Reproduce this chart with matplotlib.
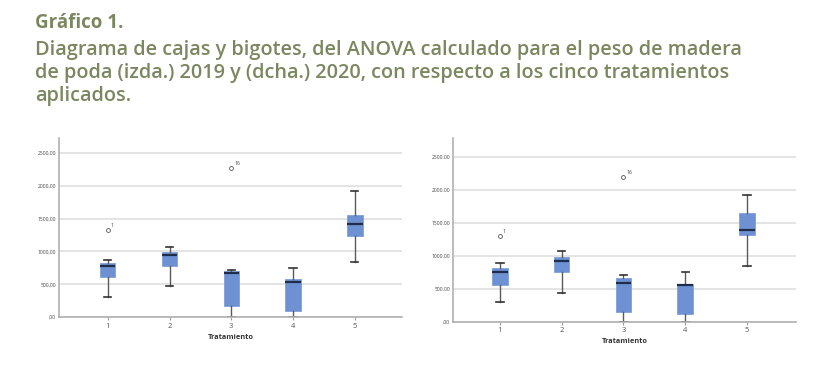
import numpy as np
import matplotlib.pyplot as plt

# Box plot statistics (peso de madera de poda)
tratamientos = [1, 2, 3, 4, 5]

# 2019 (izda.)
min19 = [310, 477, 0, 0, 834]
q1_19 = [605, 777, 168, 96, 1235]
med19 = [777, 945, 675, 529, 1413]
q3_19 = [818, 986, 701, 584, 1555]
max19 = [873, 1072, 716, 742, 1925]
out19 = {1: (1326, "1"), 3: (2276, "16")}

# 2020 (dcha.)
min20 = [303, 435, 0, 0, 844]
q1_20 = [556, 748, 152, 112, 1314]
med20 = [758, 924, 591, 552, 1389]
q3_20 = [818, 985, 662, 571, 1652]
max20 = [885, 1071, 703, 758, 1915]
out20 = {1: (1298, "1"), 3: (2197, "16")}

yticks = [0, 500, 1000, 1500, 2000, 2500]

TITLE_COLOR = "#7a875f"
BOX_COLOR = "#6d91d2"
MED_COLOR = "#1d2d4a"
WHISK_COLOR = "#5a5a5a"


def make_stats(lo, q1, med, q3, hi, outliers):
    stats = []
    for i, t in enumerate(tratamientos):
        fl = [outliers[t][0]] if t in outliers else []
        stats.append(dict(whislo=lo[i], q1=q1[i], med=med[i], q3=q3[i],
                          whishi=hi[i], fliers=fl))
    return stats


def draw(ax, stats, outliers, sep, ytop, xlim):
    ax.bxp(stats, positions=tratamientos, widths=0.25, patch_artist=True,
           boxprops=dict(facecolor=BOX_COLOR, edgecolor="#7fa0da", linewidth=0.6),
           medianprops=dict(color=MED_COLOR, linewidth=1.6),
           whiskerprops=dict(color=WHISK_COLOR, linewidth=1.0),
           capprops=dict(color="#333333", linewidth=1.2),
           capwidths=0.12,
           flierprops=dict(marker="o", markersize=2.8, markerfacecolor="none",
                           markeredgecolor="#555555", markeredgewidth=0.6))
    for t, (v, lab) in outliers.items():
        ax.annotate(lab, (t, v), xytext=(2.2, 2.2), textcoords="offset points",
                    fontsize=3.8, color="#444444")
    ax.set_ylim(0, ytop)
    ax.set_xlim(*xlim)
    ax.set_yticks(yticks)
    labels = []
    for v in yticks:
        s = "%.2f" % v
        if v == 0:
            s = s[1:]
        labels.append(s.replace(".", sep))
    ax.set_yticklabels(labels)
    ax.tick_params(axis="y", labelsize=3.6, labelcolor="#444444", length=0, pad=2)
    ax.tick_params(axis="x", labelsize=5.5, labelcolor="#555555", length=2,
                   color="#999999", pad=2)
    ax.set_xticks(tratamientos)
    ax.set_xticklabels([str(t) for t in tratamientos])
    ax.set_xlabel("Tratamiento", fontsize=5.3, fontweight="bold",
                  color="#333333", labelpad=3)
    ax.grid(axis="y", color="#dcdcdc", linewidth=1.1)
    ax.set_axisbelow(True)
    for s in ["top", "right"]:
        ax.spines[s].set_visible(False)
    for s in ["left", "bottom"]:
        ax.spines[s].set_color("#b0b0b0")
        ax.spines[s].set_linewidth(1.2)


plt.rcParams['font.family'] = ['Open Sans', 'DejaVu Sans']
fig = plt.figure(figsize=(8.18, 3.65), dpi=100)

fig.text(0.043, 0.937, "Gráfico 1.", fontsize=13.5, fontweight="bold",
         color=TITLE_COLOR, va="center")
fig.text(0.043, 0.800,
         "Diagrama de cajas y bigotes, del ANOVA calculado para el peso de madera\n"
         "de poda (izda.) 2019 y (dcha.) 2020, con respecto a los cinco tratamientos\n"
         "aplicados.",
         fontsize=14.3, color=TITLE_COLOR, va="center", linespacing=1.2,
         fontweight="semibold")

ax1 = fig.add_axes([0.0721, 0.1315, 0.419, 0.490])
draw(ax1, make_stats(min19, q1_19, med19, q3_19, max19, out19), out19, ",",
     2730, (0.21, 5.76))

ax2 = fig.add_axes([0.5538, 0.1186, 0.419, 0.503])
draw(ax2, make_stats(min20, q1_20, med20, q3_20, max20, out20), out20, ".",
     2783, (0.24, 5.79))

fig.savefig("out.png", dpi=100, facecolor="white")
